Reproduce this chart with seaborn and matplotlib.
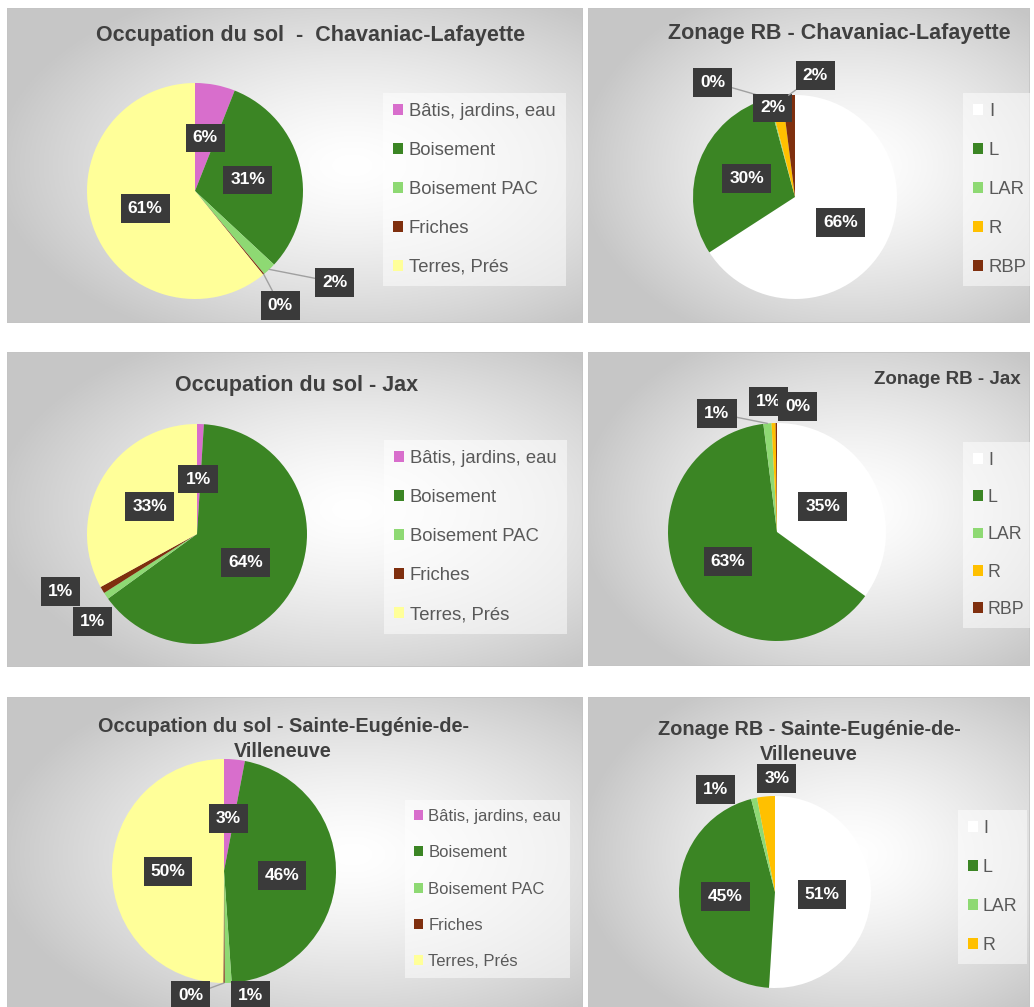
import numpy as np
import matplotlib
matplotlib.use("Agg")
import matplotlib.pyplot as plt
from matplotlib.patches import Rectangle
import seaborn as sns

W, H = 1034, 1007

# ---- data ----
occ_labels = ["Bâtis, jardins, eau", "Boisement", "Boisement PAC", "Friches", "Terres, Prés"]
zon_labels = ["I", "L", "LAR", "R", "RBP"]

occ_chavaniac = [6, 31, 2, 0.2, 61]
zon_chavaniac = [66, 30, 0.2, 2, 2]
occ_jax = [1, 64, 1, 1, 33]
zon_jax = [35, 63, 1.2, 0.6, 0.2]
occ_sainte = [3, 46, 1, 0.2, 50]
zon_sainte = [51, 45, 1, 3]

titles = [
    "Occupation du sol  -  Chavaniac-Lafayette",
    "Zonage RB - Chavaniac-Lafayette",
    "Occupation du sol - Jax",
    "Zonage RB - Jax",
    "Occupation du sol - Sainte-Eugénie-de-\nVilleneuve",
    "Zonage RB - Sainte-Eugénie-de-\nVilleneuve",
]

occ_colors = ["#D86ECC", "#3B8524", "#8ED973", "#7F2F0E", "#FFFF99"]
zon_colors = ["#FFFFFF", "#3B8524", "#8ED973", "#FFC000", "#7F2F0E"]

# ---- layout (pixels, top-down) ----
panels = [(7, 8, 583, 323), (588, 8, 1030, 323),
          (7, 352, 583, 667), (588, 352, 1030, 666),
          (7, 697, 583, 1012), (588, 697, 1030, 1012)]
pie_geo = [(195, 191, 108), (795, 197, 102), (197, 534, 110),
           (777, 532, 109), (224, 871, 112), (775, 892, 96)]
title_pos = [(311, 35), (839, 33), (297, 385), (947, 379), (283, 739), (809, 742)]
title_size = [15.5, 15.5, 15.5, 13.5, 14.3, 14.3]
legend_pos = [(383, 93, 38.5), (963, 93, 38.5), (384, 440, 38.7),
              (963, 442, 36.3), (405, 800, 36.2), (958, 810, 38)]
legend_size = [13.3, 13.3, 13.3, 12.8, 12.0, 12.8]
# label placement per slice: (distance from centre in radii, angle shift in deg, leader line)
label_place = [
    [(0.50, 0, 0), (0.50, -1, 0), (1.545, 13.4, 1), (1.32, -2.9, 1), (0.49, 0, 0)],
    [(0.51, -0.8, 0), (0.507, 0, 0), (1.385, 20.9, 1), (0.90, 3.4, 0), (1.207, -13.1, 1)],
    [(0.50, 0.7, 0), (0.51, -1.8, 0), (1.24, 5.9, 0), (1.345, -7.8, 0), (0.497, 0.4, 0)],
    [(0.479, 1.7, 0), (0.525, 0.4, 0), (1.22, 21.8, 1), (1.20, 2, 0), (1.166, -9.8, 0)],
    [(0.47, 0.4, 0), (0.52, -0.8, 0), (1.134, 9.9, 0), (1.15, -15.1, 1), (0.50, 1, 0)],
    [(0.49, -1.7, 0), (0.52, 0, 0), (1.237, 17.5, 0), (1.18, -6.4, 0)],
]

charts = [
    (occ_chavaniac, occ_labels, occ_colors),
    (zon_chavaniac, zon_labels, zon_colors),
    (occ_jax, occ_labels, occ_colors),
    (zon_jax, zon_labels, zon_colors),
    (occ_sainte, occ_labels, occ_colors),
    (zon_sainte, zon_labels[:4], zon_colors[:4]),
]

sns.set_style("white")
plt.rcParams["font.family"] = ["Liberation Sans", "DejaVu Sans"]


def fx(px):
    return px / W


def fy(py):
    return 1 - py / H


def gradient(nx=300, ny=200):
    x = np.linspace(0, 1, nx)
    y = np.linspace(0, 1, ny)
    X, Y = np.meshgrid(x, y)
    d = np.sqrt(((X - 0.6) / 0.62) ** 2 + ((Y - 0.5) / 0.62) ** 2)
    t = np.clip(d, 0, 1) ** 1.4
    v = 1.0 - 0.22 * t
    return np.dstack([v, v, v])


fig = plt.figure(figsize=(W / 100, H / 100), dpi=100)
grad = gradient()

for i, (vals, labs, cols) in enumerate(charts):
    x0, y0, x1, y1 = panels[i]
    rect = [fx(x0), fy(y1), (x1 - x0) / W, (y1 - y0) / H]

    bg = fig.add_axes(rect)
    bg.imshow(grad, extent=[0, 1, 0, 1], aspect="auto")
    bg.add_patch(Rectangle((0, 0), 1, 1, transform=bg.transAxes, fill=False,
                           edgecolor="#C4C4C4", lw=1.2))
    bg.axis("off")

    cx, cy, r = pie_geo[i]
    ax = fig.add_axes(rect, frameon=False)
    pal = sns.color_palette(cols)
    wedges, _ = ax.pie(vals, colors=pal, startangle=90, counterclock=False,
                       wedgeprops=dict(linewidth=0))
    ax.set_xlim((x0 - cx) / r, (x1 - cx) / r)
    ax.set_ylim((cy - y1) / r, (cy - y0) / r)
    ax.set_aspect("auto")
    ax.patch.set_visible(False)

    total = sum(vals)
    for w, v, (d, dt, lead) in zip(wedges, vals, label_place[i]):
        mid = np.deg2rad((w.theta1 + w.theta2) / 2)
        ang = mid + np.deg2rad(dt)
        txt = f"{round(v / total * 100)}%"
        pos = (d * np.cos(ang), d * np.sin(ang))
        box = dict(boxstyle="square,pad=0.4", fc="#3A3A3A", ec="none")
        if lead:
            ax.annotate(txt, xy=(np.cos(mid), np.sin(mid)), xytext=pos,
                        ha="center", va="center", color="white", fontsize=12.5,
                        fontweight="bold", bbox=box,
                        arrowprops=dict(arrowstyle="-", color="#A0A0A0", lw=1,
                                        shrinkA=0, shrinkB=0))
        else:
            ax.text(*pos, txt, ha="center", va="center", color="white",
                    fontsize=12.5, fontweight="bold", bbox=box)

    tx, ty = title_pos[i]
    fig.text(fx(tx), fy(ty), titles[i], ha="center", va="center",
             fontsize=title_size[i], fontweight="bold", color="#404040",
             linespacing=1.45)

    lx, ly, sp = legend_pos[i]
    fs = legend_size[i]
    fs_px = fs * 100 / 72
    leg = fig.legend(wedges, labs, loc="upper left",
                     bbox_to_anchor=(fx(lx), fy(ly)), fontsize=fs,
                     labelspacing=max((sp - 0.9 * fs_px) / fs_px, 0.1),
                     handlelength=0.55, handleheight=0.55, handletextpad=0.3,
                     borderpad=0.55, borderaxespad=0, frameon=True, fancybox=False)
    leg.get_frame().set_facecolor("white")
    leg.get_frame().set_alpha(0.5)
    leg.get_frame().set_edgecolor("none")
    for t in leg.get_texts():
        t.set_color("#595959")

fig.savefig("out.png", dpi=100)
